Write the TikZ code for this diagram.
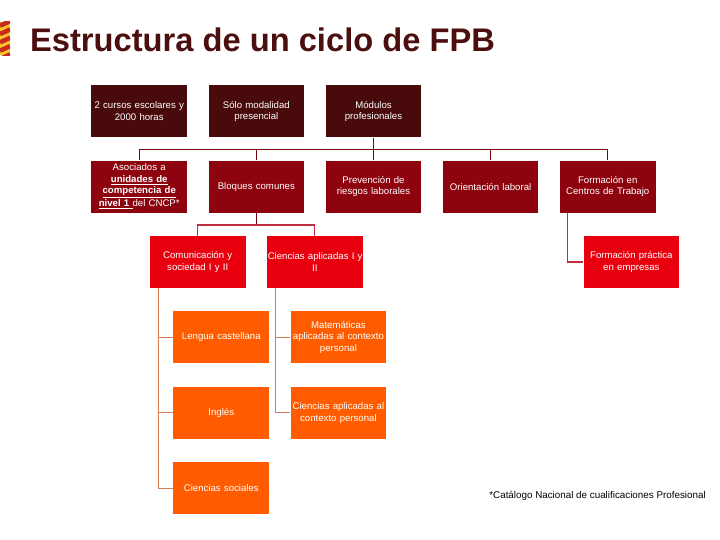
\documentclass[tikz,border=0pt]{standalone}
\usepackage{fontspec}
\setmainfont{Liberation Sans}
\usetikzlibrary{positioning,calc}
\definecolor{cTitle}{RGB}{76,14,14}
\definecolor{cDark}{RGB}{72,10,10}
\definecolor{cWine}{RGB}{142,4,14}
\definecolor{cRed}{RGB}{232,0,14}
\definecolor{cOrange}{RGB}{255,92,0}
\definecolor{cFlag}{RGB}{252,200,40}
\definecolor{cFlagRed}{RGB}{200,40,30}
\definecolor{cRedLine}{RGB}{190,45,65}
\definecolor{cOrangeLine}{RGB}{215,125,85}
\tikzset{
  basebox/.style={rectangle,minimum width=2.53cm,minimum height=1.376cm,
                  inner sep=0.5pt,text width=2.49cm,align=center,text=white,
                  font=\fontsize{7.25}{8.6}\selectfont},
  darknode/.style={basebox,fill=cDark},
  winenode/.style={basebox,fill=cWine},
  rednode/.style={basebox,fill=cRed},
  orangenode/.style={basebox,fill=cOrange},
  wineline/.style={draw=cWine!85!black,line width=0.8pt},
  redline/.style={draw=cRedLine,line width=0.9pt},
  orangeline/.style={draw=cOrangeLine,line width=0.9pt}
}
\begin{document}
\begin{tikzpicture}[node distance=0.605cm and 0.555cm]
  \useasboundingbox (0,0) rectangle (19.05,-14.2875);

  % Logo
  \begin{scope}
    \clip (0,-0.58) rectangle (0.27,-1.46);
    \fill[cFlag] (0,-0.58) rectangle (0.27,-1.46);
    \foreach \yy in {-0.62,-0.84,-1.06,-1.28,-1.5}
      \draw[cFlagRed,line width=3.4pt] (0,\yy-0.06) -- (0.27,\yy+0.06);
  \end{scope}

  % Title
  \node[inner sep=0pt,anchor=west,text=cTitle,
        font=\fontsize{24.6}{28}\bfseries\selectfont] (title) at (0.79,-1.05)
      {Estructura de un ciclo de FPB};

  % Top row
  \node[darknode] (cursos) at (3.684,-2.943) {2 cursos escolares y\\2000 horas};
  \node[darknode,right=of cursos] (modalidad) {Sólo modalidad\\presencial};
  \node[darknode,right=of modalidad] (modulos) {Módulos\\profesionales};

  % Second row
  \node[winenode,below=of cursos] (asociados)
      {Asociados a\\\textbf{\underline{unidades de}}\\\textbf{\underline{competencia de}}\\\textbf{\underline{nivel 1 }}del CNCP*};
  \node[winenode,below=of modalidad] (bloques) {Bloques comunes};
  \node[winenode,below=of modulos] (prevencion) {Prevención de\\riesgos laborales};
  \node[winenode,right=of prevencion] (orientacion) {Orientación laboral};
  \node[winenode,right=of orientacion] (fct) {Formación en\\Centros de Trabajo};

  % Third row
  \node[rednode,below=of bloques.south west,xshift=-0.28cm] (comunicacion)
      {Comunicación y\\sociedad I y II};
  \node[rednode,right=of comunicacion] (ciencias) {\mbox{Ciencias aplicadas I y}\\II};
  \node[rednode,below right=0.605cm and -1.92cm of fct] (practica)
      {Formación práctica\\en empresas};

  % Subjects
  \node[orangenode,below right=0.605cm and -1.92cm of comunicacion] (lengua) {Lengua castellana};
  \node[orangenode,below=of lengua] (ingles) {Inglés};
  \node[orangenode,below=of ingles] (sociales) {Ciencias sociales};
  \node[orangenode,below right=0.605cm and -1.92cm of ciencias] (mates)
      {Matemáticas\\aplicadas al contexto\\personal};
  \node[orangenode,below=of mates] (contexto)
      {Ciencias aplicadas al\\contexto personal};

  % Footnote
  \node[inner sep=0pt,anchor=east,font=\fontsize{7.4}{9}\selectfont] (nota) at (18.68,-13.12)
      {*Catálogo Nacional de cualificaciones Profesional};

  % Connectors
  \coordinate (bus) at ($(modulos.south)+(0,-0.32)$);
  \draw[wineline] (modulos.south) -- (prevencion.north);
  \foreach \nn in {asociados,bloques,orientacion,fct}
    \draw[wineline] (bus) -| (\nn.north);

  \coordinate (busb) at ($(bloques.south)+(0,-0.32)$);
  \draw[wineline] (bloques.south) -- (busb);
  \draw[redline] (busb) -| (comunicacion.north);
  \draw[redline] (busb) -| (ciencias.north);

  \coordinate (trunkf) at ($(fct.south west)+(0.21,0)$);
  \draw[redline] (trunkf) |- (practica.west);

  \coordinate (trunkc) at ($(comunicacion.south west)+(0.235,0)$);
  \foreach \nn in {lengua,ingles,sociales}
    \draw[orangeline] (trunkc) |- (\nn.west);
  \coordinate (trunkd) at ($(ciencias.south west)+(0.235,0)$);
  \foreach \nn in {mates,contexto}
    \draw[orangeline] (trunkd) |- (\nn.west);
\end{tikzpicture}
\end{document}
